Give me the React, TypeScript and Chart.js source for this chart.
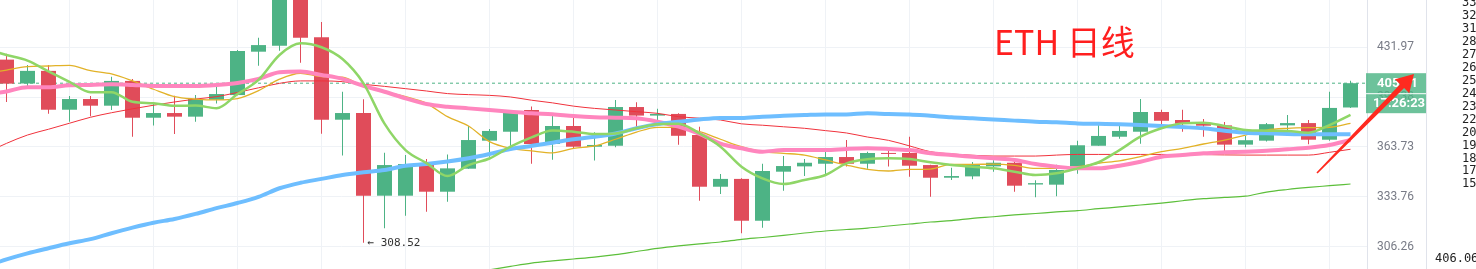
import React, { useEffect, useRef } from "react";
import { Chart, registerables } from "chart.js";

Chart.register(...registerables);

// ---- Data (index 0 is the candle just left of the visible window) ----
const OPEN = [415.0, 422.7, 405.7, 414.6, 387.8, 395.0, 390.5, 407.5, 382.5, 385.6, 383.2, 394.5, 397.7, 428.5, 432.9, 478.0, 439.3, 381.2, 385.6, 334.5, 334.5, 352.6, 336.8, 350.4, 367.7, 373.4, 387.6, 365.6, 377.1, 363.9, 364.5, 389.6, 383.9, 385.0, 371.3, 339.7, 344.3, 320.4, 348.6, 351.8, 353.4, 357.5, 353.4, 360.0, 360.0, 352.6, 345.0, 345.8, 351.8, 354.0, 341.0, 340.9, 351.8, 364.5, 370.2, 373.4, 386.3, 381.0, 378.6, 377.5, 365.2, 367.7, 377.5, 379.0, 368.3, 389.3];
const HIGH = [426.0, 427.0, 418.8, 418.8, 397.0, 397.0, 410.5, 408.9, 392.6, 397.3, 397.7, 403.5, 429.8, 438.9, 492.0, 490.0, 451.0, 400.0, 394.8, 360.2, 358.7, 356.3, 359.1, 377.1, 375.2, 386.9, 390.0, 384.3, 383.2, 373.0, 394.4, 392.9, 388.5, 385.5, 376.6, 347.2, 344.7, 353.4, 358.1, 356.3, 360.6, 368.1, 360.8, 362.7, 370.2, 352.8, 351.0, 354.4, 355.5, 354.6, 343.5, 352.8, 367.7, 377.7, 377.1, 395.0, 387.8, 387.8, 381.6, 379.7, 370.7, 379.0, 384.3, 381.0, 400.0, 407.7];
const LOW = [410.0, 393.0, 403.9, 385.2, 379.9, 383.4, 387.6, 370.2, 377.5, 371.9, 379.9, 391.9, 397.5, 418.3, 429.2, 420.4, 372.1, 358.5, 308.52, 316.3, 323.2, 325.4, 331.0, 350.4, 357.7, 364.5, 353.4, 355.9, 362.7, 355.3, 363.5, 376.6, 381.0, 365.2, 331.6, 335.5, 313.6, 316.6, 337.4, 346.0, 347.2, 351.8, 350.4, 351.8, 345.6, 333.9, 343.7, 344.1, 348.6, 336.8, 333.6, 334.2, 347.4, 364.5, 368.9, 365.8, 376.4, 373.4, 370.2, 360.8, 363.5, 367.1, 372.8, 365.4, 367.7, 389.0];
const CLOSE = [422.7, 405.6, 414.6, 387.8, 395.0, 390.5, 407.5, 382.5, 385.6, 383.2, 395.0, 398.4, 429.0, 433.4, 480.0, 438.9, 381.2, 385.6, 334.5, 352.6, 353.2, 336.8, 350.6, 368.1, 373.9, 386.5, 365.6, 377.1, 363.9, 365.0, 389.6, 383.9, 385.0, 370.8, 339.7, 344.3, 320.4, 349.0, 352.0, 354.0, 357.5, 353.4, 360.0, 359.4, 352.2, 345.0, 346.0, 352.6, 354.0, 340.3, 341.8, 349.6, 364.8, 370.7, 373.9, 386.3, 380.5, 378.6, 377.3, 365.2, 368.0, 378.3, 379.0, 368.3, 389.0, 405.91];

const MA5 = [430.5, 426.1, 422.0, 414.2, 406.8, 399.7, 399.7, 393.1, 392.2, 390.4, 390.6, 388.8, 398.4, 408.2, 426.1, 434.7, 431.8, 423.1, 405.8, 378.6, 361.8, 353.8, 346.0, 352.6, 356.6, 363.9, 369.8, 374.2, 373.4, 371.9, 372.3, 375.6, 378.3, 378.6, 372.3, 363.9, 351.6, 344.6, 341.3, 343.7, 346.6, 353.6, 356.1, 356.7, 356.3, 354.3, 352.6, 351.6, 350.6, 348.6, 346.6, 347.6, 350.6, 354.3, 361.8, 370.2, 375.6, 378.8, 379.2, 377.1, 374.5, 374.1, 373.9, 372.8, 377.7, 384.3];
const MA10 = [412.4, 415.2, 417.6, 418.1, 418.6, 414.7, 412.4, 407.5, 401.7, 396.6, 395.0, 394.4, 395.3, 400.7, 408.7, 412.9, 410.5, 410.1, 403.5, 400.0, 396.6, 392.1, 383.2, 377.1, 367.1, 362.9, 361.3, 360.1, 362.9, 364.4, 368.6, 373.2, 376.2, 376.2, 373.4, 368.6, 363.9, 360.8, 359.8, 358.7, 355.7, 352.6, 350.0, 349.0, 350.0, 350.2, 353.0, 353.0, 353.2, 352.4, 350.6, 350.6, 351.6, 353.7, 355.1, 357.7, 360.8, 362.9, 365.6, 368.1, 371.3, 374.5, 375.6, 376.0, 376.3, 378.8];
const MA20 = [397.7, 400.2, 403.1, 403.1, 404.5, 404.7, 405.2, 404.7, 404.0, 404.0, 404.0, 404.7, 406.1, 408.9, 413.6, 414.1, 411.7, 408.9, 404.0, 400.0, 395.5, 391.6, 389.8, 388.7, 387.6, 386.5, 385.4, 384.8, 383.6, 382.8, 382.5, 382.1, 379.9, 376.7, 372.0, 365.8, 362.9, 360.8, 361.8, 361.8, 361.8, 362.5, 362.9, 362.5, 361.8, 359.8, 358.7, 357.7, 356.7, 355.7, 353.2, 351.6, 350.6, 350.6, 352.2, 354.6, 357.7, 358.7, 359.8, 360.4, 360.8, 361.4, 362.3, 363.3, 365.0, 368.1];
const MA30 = [360.0, 366.0, 371.3, 375.0, 378.9, 382.8, 385.8, 388.4, 390.8, 393.0, 395.0, 396.6, 399.5, 402.7, 405.8, 407.5, 407.5, 407.0, 405.1, 403.7, 402.1, 400.5, 398.7, 398.0, 397.5, 396.4, 394.2, 392.4, 390.2, 388.7, 387.6, 386.5, 385.4, 383.2, 382.2, 381.0, 378.5, 377.6, 376.6, 375.6, 374.1, 372.6, 370.0, 367.9, 364.4, 360.8, 359.4, 358.6, 358.1, 358.1, 358.1, 358.7, 359.1, 359.1, 359.1, 359.1, 359.1, 359.0, 359.0, 358.8, 358.7, 358.7, 358.7, 358.7, 360.4, 362.3];
const MA60 = [296.2, 299.8, 302.9, 305.6, 308.2, 310.4, 313.6, 316.6, 319.3, 321.4, 324.2, 327.4, 330.3, 333.8, 338.8, 342.0, 344.3, 346.6, 348.2, 349.6, 352.2, 353.2, 354.7, 356.7, 359.4, 362.5, 364.4, 366.4, 368.6, 370.2, 372.3, 375.6, 378.3, 379.8, 381.4, 382.4, 382.3, 383.2, 383.8, 384.3, 384.7, 384.7, 385.4, 384.9, 384.7, 383.8, 382.8, 382.1, 381.4, 380.6, 379.9, 379.5, 378.8, 378.5, 378.2, 377.7, 377.1, 376.4, 375.6, 374.1, 372.8, 372.4, 372.0, 371.8, 371.8, 371.8];
const MA120 = [null, null, null, null, null, null, null, null, null, null, null, null, null, null, null, null, null, null, null, null, null, null, null, 292.5, 294.4, 296.2, 297.9, 299.0, 300.0, 301.0, 302.3, 303.9, 305.5, 306.8, 307.9, 308.9, 310.3, 311.3, 312.4, 313.7, 314.8, 315.6, 316.4, 317.5, 318.6, 319.7, 320.5, 321.7, 322.6, 323.6, 324.4, 325.3, 326.0, 327.1, 328.1, 329.2, 330.3, 331.6, 332.8, 333.5, 334.2, 336.6, 338.1, 339.3, 340.3, 341.3];

const Y_TICKS = [306.26, 333.76, 363.73, 396.38, 431.97, 470.71];
const SIDE_LABELS = ["330", "320", "310", "280", "270", "260", "250", "240", "230", "220", "200", "190", "180", "170", "150"];
const SIDE_BOTTOM = "406.060";
const TITLE = "ETH 日线";
const COUNTDOWN = "17:26:23";

// ---- Layout / style ----
const W = 1476;
const VIEW_H = 269;
const OFF = 30;
const CANVAS_H = 330;
const PLOT_RIGHT = 1367;
const Y_MIN = 279.57;
const Y_MAX = 493.14;
const SLOT = 21;
const FIRST_PX = 6.5;
const X_MIN = 1 - FIRST_PX / SLOT;
const X_MAX = 1 + (PLOT_RIGHT - FIRST_PX) / SLOT;
const UP = "#4db385";
const DOWN = "#e04c5a";
const GRID = "#eff2f6";

function drawArrow(ctx: CanvasRenderingContext2D, x0: number, y0: number, x1: number, y1: number) {
  const dx = x1 - x0, dy = y1 - y0;
  const len = Math.hypot(dx, dy);
  const ux = dx / len, uy = dy / len;
  const nx = -uy, ny = ux;
  const headLen = 17, headHalf = 10, tailHalf = 0.8, neckHalf = 2.8;
  const bx = x1 - ux * headLen, by = y1 - uy * headLen;
  ctx.beginPath();
  ctx.moveTo(x0 + nx * tailHalf, y0 + ny * tailHalf);
  ctx.lineTo(bx + nx * neckHalf, by + ny * neckHalf);
  ctx.lineTo(bx + nx * headHalf, by + ny * headHalf);
  ctx.lineTo(x1, y1);
  ctx.lineTo(bx - nx * headHalf, by - ny * headHalf);
  ctx.lineTo(bx - nx * neckHalf, by - ny * neckHalf);
  ctx.lineTo(x0 - nx * tailHalf, y0 - ny * tailHalf);
  ctx.closePath();
  ctx.fill();
}

const overlayPlugin = {
  id: "overlay",
  afterDraw(chart: any) {
    const ctx: CanvasRenderingContext2D = chart.ctx;
    const xs = chart.scales.x;
    const ys = chart.scales.y;
    ctx.save();

    // right side panel
    ctx.fillStyle = "#ffffff";
    ctx.fillRect(1427, 0, W - 1427, chart.height);
    ctx.fillStyle = "#e0e3eb";
    ctx.fillRect(1426, 0, 1, chart.height);

    // min-low marker
    let minI = 0;
    LOW.forEach((v, i) => { if (v < LOW[minI]) minI = i; });
    ctx.font = '11px "DejaVu Sans Mono"';
    ctx.fillStyle = "#333";
    ctx.textAlign = "left";
    ctx.textBaseline = "middle";
    ctx.fillText("← " + LOW[minI].toFixed(2), xs.getPixelForValue(minI) + 4, ys.getPixelForValue(LOW[minI]));

    // last price tag
    const last = CLOSE[CLOSE.length - 1];
    const yc = ys.getPixelForValue(last);
    ctx.fillStyle = "rgba(77,180,133,0.82)";
    ctx.fillRect(1366, yc - 10, 60, 40);
    ctx.fillStyle = "#ffffff";
    ctx.fillRect(1366, yc + 10, 60, 1);
    ctx.font = 'bold 13px Roboto';
    ctx.fillText(last.toFixed(2), 1377, yc + 0.5);
    ctx.fillText(COUNTDOWN, 1373, yc + 20.5);

    ctx.translate(0, OFF);
    // side panel texts
    ctx.font = '12px "DejaVu Sans Mono"';
    ctx.fillStyle = "#222";
    SIDE_LABELS.forEach((t, i) => ctx.fillText(t, 1462, 3 + 12.95 * i));
    ctx.fillText(SIDE_BOTTOM, 1435, 259);

    // title
    ctx.font = '34px "Noto Sans CJK SC"';
    ctx.fillStyle = "#ff1f1f";
    ctx.textBaseline = "alphabetic";
    ctx.fillText(TITLE, 994, 54.5);

    // arrow
    ctx.fillStyle = "#ff2a1f";
    drawArrow(ctx, 1317, 173, 1414, 74);
    ctx.restore();
  },
};

export default function App() {
  const ref = useRef<HTMLCanvasElement>(null);

  useEffect(() => {
    const idx = OPEN.map((_, i) => i);
    const colors = idx.map((i) => (CLOSE[i] >= OPEN[i] ? UP : DOWN));
    const last = CLOSE[CLOSE.length - 1];
    const line = (label: string, arr: (number | null)[], color: string, width: number, order: number) => ({
      type: "line" as const,
      label,
      data: idx.map((i) => ({ x: i, y: arr[i] })),
      borderColor: color,
      borderWidth: width,
      pointRadius: 0,
      cubicInterpolationMode: "monotone" as const,
      spanGaps: false,
      order,
    });

    const chart = new Chart(ref.current as HTMLCanvasElement, {
      type: "bar",
      data: {
        datasets: [
          {
            type: "line",
            label: "last",
            data: [{ x: X_MIN, y: last }, { x: X_MAX, y: last }],
            borderColor: UP,
            borderWidth: 1,
            borderDash: [3, 3],
            pointRadius: 0,
            order: 40,
          } as any,
          {
            type: "bar",
            label: "wick",
            data: idx.map((i) => ({ x: i, y: [LOW[i], HIGH[i]] })),
            backgroundColor: colors,
            barThickness: 1,
            grouped: false,
            inflateAmount: 0,
            order: 31,
          } as any,
          {
            type: "bar",
            label: "body",
            data: idx.map((i) => ({ x: i, y: [OPEN[i], CLOSE[i]] })),
            backgroundColor: colors,
            barThickness: 15,
            minBarLength: 1,
            grouped: false,
            inflateAmount: 0,
            order: 30,
          } as any,
          line("MA120", MA120, "#5cbf3a", 1.2, 7),
          line("MA30", MA30, "#f0323c", 1, 6),
          line("MA10", MA10, "#e2b228", 1.3, 5),
          line("MA20", MA20, "#ff86be", 4, 4),
          line("MA60", MA60, "#6ebeff", 4, 3),
          line("MA5", MA5, "#8fd667", 2.5, 2),
        ],
      },
      options: {
        responsive: false,
        maintainAspectRatio: false,
        devicePixelRatio: 1,
        animation: false,
        events: [],
        layout: { padding: 0, autoPadding: false } as any,
        plugins: { legend: { display: false }, tooltip: { enabled: false }, title: { display: false } },
        scales: {
          x: {
            type: "linear",
            min: X_MIN,
            max: X_MAX,
            bounds: "data",
            offset: false,
            grid: { color: GRID, drawTicks: false, offset: false },
            border: { display: false },
            ticks: { display: false },
            afterBuildTicks: (scale: any) => {
              const t = [];
              for (let k = 4; k <= 64; k += 4) t.push({ value: k });
              scale.ticks = t;
            },
            afterFit: (scale: any) => {
              scale.height = 0;
              scale.paddingLeft = 0;
              scale.paddingRight = 0;
            },
          } as any,
          y: {
            type: "logarithmic",
            position: "right",
            min: Y_MIN,
            max: Y_MAX,
            bounds: "data",
            beginAtZero: false,
            grid: { color: GRID, drawTicks: false },
            border: { display: true, color: "#e0e3eb" },
            ticks: {
              padding: 10,
              color: "#787b86",
              font: { family: "Roboto", size: 12 },
              callback: (v: any) => Number(v).toFixed(2),
            },
            afterBuildTicks: (scale: any) => {
              scale.ticks = Y_TICKS.map((v) => ({ value: v }));
            },
            afterFit: (scale: any) => {
              scale.width = W - PLOT_RIGHT;
              scale.paddingTop = 0;
              scale.paddingBottom = 0;
            },
          } as any,
        },
      },
      plugins: [overlayPlugin],
    } as any);

    return () => chart.destroy();
  }, []);

  return (
    <div
      style={{
        position: "fixed",
        left: 0,
        top: 0,
        width: W,
        height: VIEW_H,
        overflow: "hidden",
        background: "#ffffff",
      }}
    >
      <canvas
        ref={ref}
        width={W}
        height={CANVAS_H}
        style={{ position: "absolute", left: 0, top: -OFF, width: W, height: CANVAS_H }}
      />
    </div>
  );
}
